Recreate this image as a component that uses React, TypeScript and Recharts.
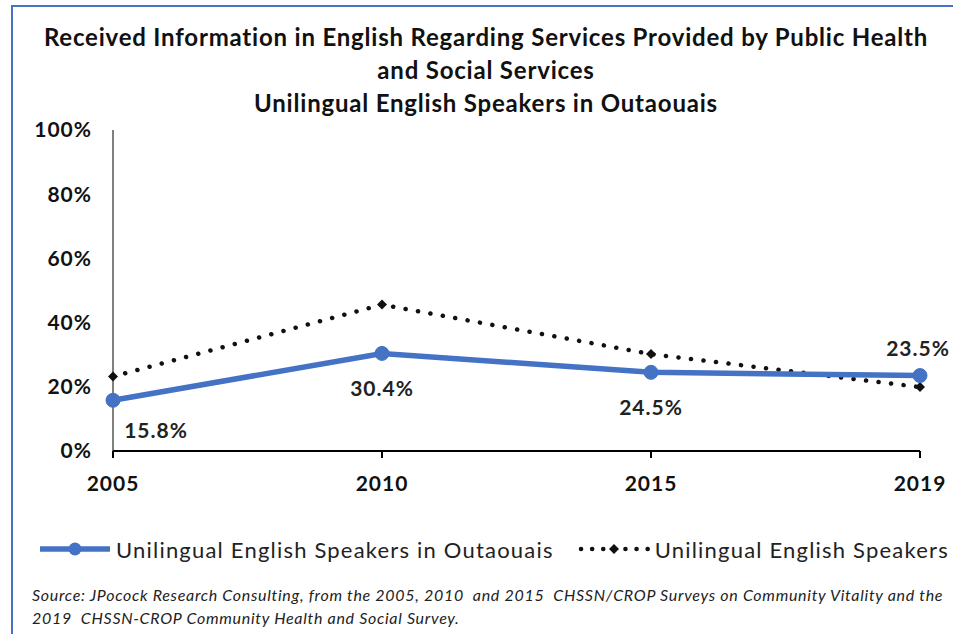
import { LineChart, Line, XAxis, YAxis, LabelList } from 'recharts'

const years = ['2005', '2010', '2015', '2019']
const outaouais = [15.8, 30.4, 24.5, 23.5]
const allQuebec = [23.2, 45.6, 30.2, 19.9]
const yTicks = [0, 20, 40, 60, 80, 100]

const titleLines = [
  'Received Information in English Regarding Services Provided by Public Health',
  'and Social Services',
  'Unilingual English Speakers in Outaouais',
]
const sourceLines = [
  'Source: JPocock Research Consulting, from the 2005, 2010  and 2015  CHSSN/CROP Surveys on Community Vitality and the',
  '2019  CHSSN-CROP Community Health and Social Survey.',
]

const data = years.map((year, i) => ({
  year,
  outaouais: outaouais[i],
  allQuebec: allQuebec[i],
}))

const FONT = 'Lato, "Liberation Sans", sans-serif'
const BLUE = '#4472C4'

// label placement for the blue series (dx, dy from point)
const labelOffsets = [
  [43, 29],
  [0, 34],
  [0, 34],
  [-2, -28],
]

function BlueLabel(props: any) {
  const { x, y, value, index } = props
  const [dx, dy] = labelOffsets[index] || [0, 30]
  return (
    <text
      x={x + dx}
      y={y + dy}
      textAnchor="middle"
      dominantBaseline="central"
      fontFamily={FONT}
      fontWeight={700}
      fontSize={21}
      letterSpacing={1}
      fill="#222"
    >
      {value.toFixed(1)}%
    </text>
  )
}

function Diamond(props: any) {
  const { cx, cy } = props
  if (cx == null || cy == null) return null
  const s = 5
  return <path d={`M${cx},${cy - s}L${cx + s},${cy}L${cx},${cy + s}L${cx - s},${cy}Z`} fill="#111" />
}

const tickStyle = { fontFamily: FONT, fontWeight: 700, fontSize: 21, fill: '#111', letterSpacing: 1 }

export default function App() {
  return (
    <div
      style={{
        position: 'absolute',
        left: 0,
        top: 0,
        width: 953,
        height: 634,
        background: '#fff',
        overflow: 'hidden',
        fontFamily: FONT,
      }}
    >
      <div
        style={{
          position: 'absolute',
          left: 11,
          top: 5,
          width: 1000,
          height: 700,
          borderTop: `2px solid ${BLUE}`,
          borderLeft: `2px solid ${BLUE}`,
        }}
      />
      <div
        style={{
          position: 'absolute',
          left: 0,
          top: 20,
          width: 972,
          textAlign: 'center',
          fontWeight: 700,
          fontSize: 24,
          letterSpacing: 0.8,
          lineHeight: '33px',
          color: '#111',
        }}
      >
        {titleLines.map((t) => (
          <div key={t}>{t}</div>
        ))}
      </div>

      <div style={{ position: 'absolute', left: 0, top: 0 }}>
        <LineChart
          width={953}
          height={634}
          data={data}
          margin={{ top: 130, right: 33, bottom: 143, left: 13 }}
        >
          <XAxis
            dataKey="year"
            height={40}
            tickSize={7}
            tickMargin={18}
            axisLine={{ stroke: '#000', strokeWidth: 2 }}
            tickLine={{ stroke: '#000', strokeWidth: 2 }}
            tick={tickStyle}
          />
          <YAxis
            width={100}
            domain={[0, 100]}
            ticks={yTicks}
            tickFormatter={(v) => `${v}%`}
            tickLine={false}
            tickSize={6}
            tickMargin={15}
            axisLine={{ stroke: '#000', strokeWidth: 1 }}
            tick={tickStyle}
          />
          <Line
            dataKey="allQuebec"
            stroke="#111"
            strokeWidth={4.5}
            strokeDasharray="0.1 12.5"
            strokeLinecap="round"
            dot={<Diamond />}
            isAnimationActive={false}
          />
          <Line
            dataKey="outaouais"
            stroke={BLUE}
            strokeWidth={5.5}
            dot={{ r: 7, fill: BLUE, stroke: BLUE, strokeWidth: 1 }}
            isAnimationActive={false}
          >
            <LabelList dataKey="outaouais" content={<BlueLabel />} />
          </Line>
        </LineChart>
      </div>

      <div
        style={{
          position: 'absolute',
          left: 39,
          top: 535,
          height: 28,
          display: 'flex',
          alignItems: 'center',
          fontSize: 22,
          letterSpacing: 1.2,
          color: '#222',
          whiteSpace: 'nowrap',
        }}
      >
        <svg width={72} height={20}>
          <line x1={1} y1={10} x2={71} y2={10} stroke={BLUE} strokeWidth={5.5} />
          <circle cx={36} cy={10} r={6.5} fill={BLUE} />
        </svg>
        <span style={{ marginLeft: 5 }}>Unilingual English Speakers in Outaouais</span>
        <svg width={72} height={20} style={{ marginLeft: 24 }}>
          <line
            x1={3}
            y1={10}
            x2={70}
            y2={10}
            stroke="#111"
            strokeWidth={4.5}
            strokeDasharray="0.1 11"
            strokeLinecap="round"
          />
          <path d="M36,5L41,10L36,15L31,10Z" fill="#111" />
        </svg>
        <span style={{ marginLeft: 5 }}>Unilingual English Speakers</span>
      </div>

      <div
        style={{
          position: 'absolute',
          left: 32,
          top: 583,
          fontStyle: 'italic',
          fontSize: 16,
          letterSpacing: 0.7,
          lineHeight: '23px',
          color: '#222',
          whiteSpace: 'pre',
        }}
      >
        {sourceLines.map((t) => (
          <div key={t}>{t}</div>
        ))}
      </div>
    </div>
  )
}
